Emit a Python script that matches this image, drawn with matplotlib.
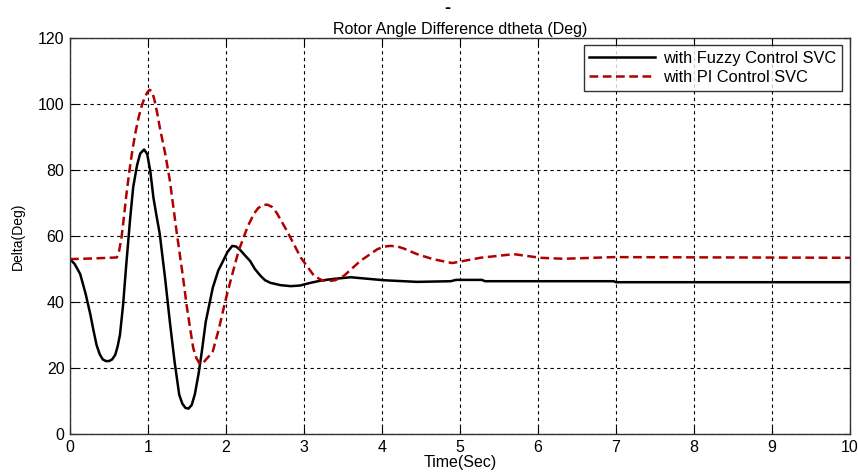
import numpy as np
import matplotlib.pyplot as plt

plt.rcParams['font.family'] = ['Liberation Sans', 'DejaVu Sans']

# values
t_fuzzy = [0.0, 0.06, 0.13, 0.20, 0.26, 0.30, 0.34, 0.38, 0.42, 0.46, 0.50, 0.54,
           0.58, 0.61, 0.64, 0.68, 0.72, 0.77, 0.81, 0.86, 0.90, 0.95, 0.99, 1.03,
           1.07, 1.11, 1.15, 1.22, 1.28, 1.34, 1.40, 1.44, 1.48, 1.52, 1.56, 1.60,
           1.65, 1.69, 1.74, 1.83, 1.90, 1.96, 2.02, 2.08, 2.13, 2.18, 2.24, 2.31,
           2.37, 2.44, 2.50, 2.57, 2.70, 2.83, 2.95, 3.08, 3.22, 3.38, 3.60, 4.02,
           4.45, 4.88, 4.95, 5.28, 5.32, 6.97, 7.0, 10.0]
fuzzy = [53.0, 51.5, 48.5, 42.5, 36.3, 31.5, 27.0, 24.2, 22.6, 22.1, 22.1, 22.6,
         24.0, 26.5, 30.0, 39.0, 51.0, 65.0, 74.8, 81.5, 85.0, 86.2, 84.8, 79.5,
         71.5, 66.0, 60.7, 47.0, 34.0, 22.0, 11.9, 9.2, 7.9, 7.7, 8.8, 12.0,
         18.5, 25.0, 34.0, 44.3, 49.5, 52.3, 55.2, 57.0, 56.8, 55.8, 54.2, 52.4,
         50.0, 48.0, 46.6, 45.8, 45.1, 44.8, 45.0, 45.8, 46.5, 47.0, 47.5, 46.6,
         46.1, 46.3, 46.7, 46.7, 46.3, 46.3, 46.0, 46.0]

t_pi = [0.0, 0.3, 0.6, 0.63, 0.66, 0.69, 0.72, 0.76, 0.80, 0.84, 0.88, 0.92,
        0.95, 0.99, 1.02, 1.05, 1.08, 1.12, 1.15, 1.22, 1.28, 1.37, 1.44, 1.50,
        1.54, 1.58, 1.62, 1.66, 1.70, 1.74, 1.79, 1.83, 1.91, 1.99, 2.07, 2.16,
        2.28, 2.36, 2.41, 2.47, 2.53, 2.59, 2.65, 2.78, 2.96, 3.13, 3.22, 3.30,
        3.40, 3.51, 3.72, 3.94, 4.03, 4.11, 4.20, 4.28, 4.45, 4.65, 4.90, 5.26,
        5.69, 6.03, 6.33, 6.97, 10.0]
pi_ctrl = [53.0, 53.2, 53.5, 55.5, 59.5, 65.5, 72.0, 79.5, 86.0, 91.5, 96.0, 99.5,
           101.5, 103.5, 104.3, 103.8, 101.5, 97.0, 93.0, 85.0, 76.8, 60.7, 49.0, 38.2,
           32.0, 26.0, 23.0, 21.4, 21.3, 22.5, 23.8, 25.0, 32.0, 40.2, 47.5, 55.4,
           63.0, 66.8, 68.4, 69.4, 69.5, 68.8, 67.0, 61.6, 53.4, 47.9, 46.7, 46.3,
           46.6, 47.9, 52.4, 56.0, 56.8, 57.0, 56.8, 56.2, 54.5, 53.0, 51.8, 53.4,
           54.5, 53.4, 53.1, 53.6, 53.4]

fig = plt.figure(figsize=(8.58, 4.72), dpi=100)
ax = fig.add_axes([0.0816, 0.0805, 0.9091, 0.839])

ax.plot(t_fuzzy, fuzzy, color='black', lw=1.8, solid_joinstyle='round',
        label='with Fuzzy Control SVC')
ax.plot(t_pi, pi_ctrl, color='#b00000', lw=1.8, ls=(0, (3.5, 1.8)),
        dash_joinstyle='round', label='with PI Control SVC')

ax.set_xlim(0, 10)
ax.set_ylim(0, 120)
ax.set_xticks(range(0, 11))
ax.set_yticks(range(0, 121, 20))
ax.grid(True, color='black', lw=0.8, ls=(0, (3, 3)))
ax.tick_params(direction='in', length=5, labelsize=11.5, top=True, right=True,
               labeltop=False, labelright=False, pad=4)
for s in ax.spines.values():
    s.set_linewidth(1.0)
    s.set_color('#333333')

ax.set_xlabel('Time(Sec)', fontsize=11.5, labelpad=0)
ax.set_ylabel('Delta(Deg)', fontsize=10, labelpad=9)
ax.set_title('Rotor Angle Difference dtheta (Deg)', fontsize=11.5, pad=3)
fig.text(0.521, 0.982, '-', fontsize=13, fontweight='bold', ha='center', va='center')

leg = ax.legend(loc='upper right', bbox_to_anchor=(0.990, 0.982), borderaxespad=0,
                fontsize=11.8, handlelength=4.0, frameon=True, fancybox=False,
                borderpad=0.35, labelspacing=0.25, handletextpad=0.5)
leg.get_frame().set_edgecolor('black')
leg.get_frame().set_linewidth(1.0)

plt.savefig('out.png', dpi=100)
